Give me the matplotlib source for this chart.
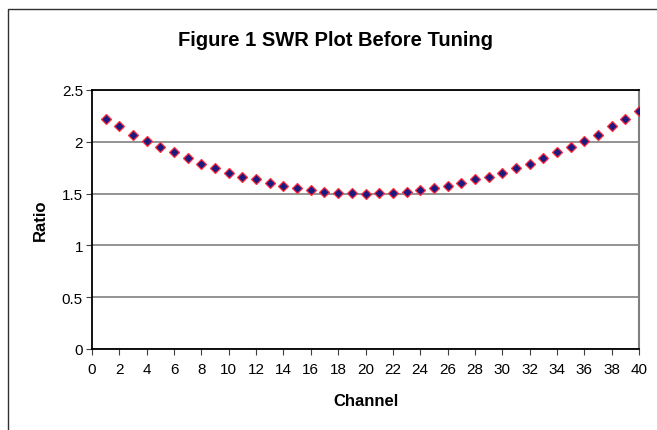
import matplotlib
matplotlib.use("Agg")
import matplotlib.pyplot as plt
from matplotlib.patches import Rectangle

plt.rcParams['font.family'] = ['Liberation Sans', 'DejaVu Sans']

channels = list(range(1, 41))
swr = [2.22, 2.15, 2.07, 2.01, 1.95, 1.90, 1.84, 1.79, 1.75, 1.70,
       1.66, 1.64, 1.60, 1.57, 1.55, 1.53, 1.52, 1.51, 1.51, 1.50,
       1.51, 1.51, 1.52, 1.53, 1.55, 1.57, 1.60, 1.64, 1.66, 1.70,
       1.75, 1.79, 1.84, 1.90, 1.95, 2.01, 2.07, 2.15, 2.22, 2.30]
xticks = list(range(0, 41, 2))
yticks = [0, 0.5, 1, 1.5, 2, 2.5]
ytick_labels = ['0', '0.5', '1', '1.5', '2', '2.5']

W, H = 657, 431
fig = plt.figure(figsize=(W / 100, H / 100), dpi=100)

# outer chart frame
fig.patches.append(Rectangle((8 / W, -0.1), 1.2, (H - 10) / H + 0.1,
                             transform=fig.transFigure, fill=False,
                             edgecolor='#303030', linewidth=1.0))

ax = fig.add_axes([92 / W, (H - 350) / H, (639 - 92) / W, (350 - 91) / H])
ax.set_xlim(0, 40)
ax.set_ylim(0, 2.5)

ax.plot(channels, swr, linestyle='none', marker='D', markersize=4.8,
        markerfacecolor='#1a1a80', markeredgecolor='#ff2a3a',
        markeredgewidth=0.9, zorder=3)

ax.set_yticks(yticks)
ax.set_yticklabels(ytick_labels)
ax.set_xticks(xticks)
ax.yaxis.grid(True, color='#808080', linewidth=1.2)
ax.set_axisbelow(True)

for s in ['left', 'bottom', 'top']:
    ax.spines[s].set_color('black')
    ax.spines[s].set_linewidth(1.3)
ax.spines['right'].set_color('#808080')
ax.spines['right'].set_linewidth(1.5)

ax.tick_params(axis='both', direction='out', length=4.5, width=0.8,
               color='#404040', labelsize=11, labelcolor='black')
ax.tick_params(axis='y', pad=2)
ax.tick_params(axis='x', pad=5)

ax.set_ylabel('Ratio', fontsize=12, fontweight='bold', labelpad=10)
ax.set_xlabel('Channel', fontsize=12, fontweight='bold', labelpad=12)

fig.text(336 / W, 1 - 40 / H, 'Figure 1 SWR Plot Before Tuning',
         ha='center', va='center', fontsize=14.5, fontweight='bold')

fig.savefig('out.png', dpi=100)
